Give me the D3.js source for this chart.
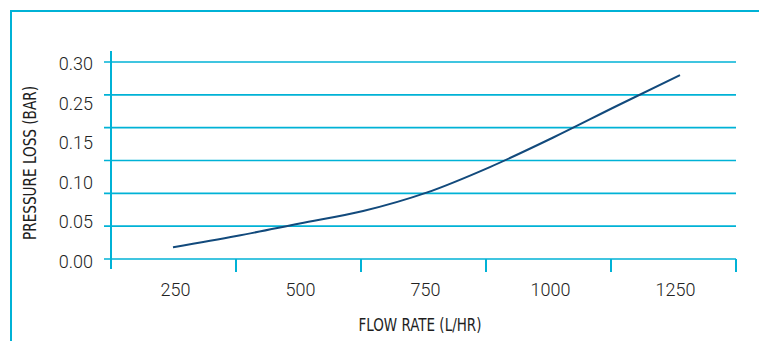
<!DOCTYPE html>
<html>
<head>
<meta charset="utf-8">
<script src="https://cdn.jsdelivr.net/npm/d3@7"></script>
<style>
  body { margin: 0; background: #fff; }
  svg { display: block; }
  .tick-label { font-family: Roboto, "Liberation Sans", Arial, sans-serif; font-size: 18px; font-weight: 300; fill: #222; }
  .axis-title { font-family: "Liberation Sans Narrow", "DejaVu Sans Condensed", "Liberation Sans", sans-serif; font-size: 17px; fill: #1e1e1e; }
</style>
</head>
<body>
<div id="chart"></div>
<script>
// flow rate categories shown on the x axis (L/HR)
var flowLabels = [250, 500, 750, 1000, 1250];
// y tick labels as printed (0.20 is missing in the original)
var lossLabels = ["0.30", "0.25", "0.15", "0.10", "0.05", "0.00"];
// gridline values
var gridValues = [0, 0.05, 0.10, 0.15, 0.20, 0.25, 0.30];
// curve
var curveFlow = [250, 375, 500, 625, 750, 875, 1000, 1125, 1250];
var curveLoss = [0.018, 0.035, 0.054, 0.073, 0.101, 0.140, 0.185, 0.233, 0.280];

var width = 759, height = 341;
var gridColor = "#00b2d6", lineColor = "#124a7c";

var svg = d3.select("#chart").append("svg")
    .attr("width", width)
    .attr("height", height);

// frame (left + top only)
svg.append("path")
    .attr("d", "M11,341V11H759")
    .attr("fill", "none")
    .attr("stroke", gridColor)
    .attr("stroke-width", 2);

// scales
var y = d3.scaleLinear().domain([0, 0.30]).range([259, 62]);
var yLab = d3.scalePoint().domain(lossLabels).range([64, 261.5]);
var xBand = d3.scaleBand().domain(flowLabels).range([111, 736]);
var x = d3.scaleLinear().domain([250, 1250]).range([173, 680]);

// gridlines
svg.append("g").selectAll("line")
    .data(gridValues)
    .enter().append("line")
    .attr("x1", 104)
    .attr("x2", 736)
    .attr("y1", function (d) { return y(d); })
    .attr("y2", function (d) { return y(d); })
    .attr("stroke", gridColor)
    .attr("stroke-width", 1.6);

// y axis line
svg.append("line")
    .attr("x1", 111).attr("x2", 111)
    .attr("y1", 51).attr("y2", 269)
    .attr("stroke", gridColor)
    .attr("stroke-width", 2);

// x axis ticks at band edges
var edges = flowLabels.map(function (d) { return xBand(d); });
edges.push(xBand.range()[1]);
svg.append("g").selectAll("line")
    .data(edges.slice(1))
    .enter().append("line")
    .attr("x1", function (d) { return d; })
    .attr("x2", function (d) { return d; })
    .attr("y1", y(0))
    .attr("y2", 272)
    .attr("stroke", gridColor)
    .attr("stroke-width", 2);

// y tick labels
svg.append("g").selectAll("text")
    .data(lossLabels)
    .enter().append("text")
    .attr("class", "tick-label")
    .attr("x", 93)
    .attr("y", function (d) { return yLab(d); })
    .attr("dy", "0.35em")
    .attr("text-anchor", "end")
    .text(function (d) { return d; });

// x tick labels
svg.append("g").selectAll("text")
    .data(flowLabels)
    .enter().append("text")
    .attr("class", "tick-label")
    .attr("x", function (d) { return xBand(d) + xBand.bandwidth() / 2 + 2; })
    .attr("y", 290)
    .attr("dy", "0.35em")
    .attr("text-anchor", "middle")
    .text(function (d) { return d; });

// axis titles
svg.append("text")
    .attr("class", "axis-title")
    .attr("transform", "translate(36,163) rotate(-90)")
    .attr("text-anchor", "middle")
    .attr("textLength", 154)
    .attr("lengthAdjust", "spacingAndGlyphs")
    .text("PRESSURE LOSS (BAR)");

svg.append("text")
    .attr("class", "axis-title")
    .attr("x", 420)
    .attr("y", 331)
    .attr("text-anchor", "middle")
    .attr("textLength", 123)
    .attr("lengthAdjust", "spacingAndGlyphs")
    .text("FLOW RATE (L/HR)");

// pressure loss curve
var line = d3.line()
    .x(function (d, i) { return x(curveFlow[i]); })
    .y(function (d) { return y(d); })
    .curve(d3.curveMonotoneX);

svg.append("path")
    .datum(curveLoss)
    .attr("d", line)
    .attr("fill", "none")
    .attr("stroke", lineColor)
    .attr("stroke-width", 2);
</script>
</body>
</html>
